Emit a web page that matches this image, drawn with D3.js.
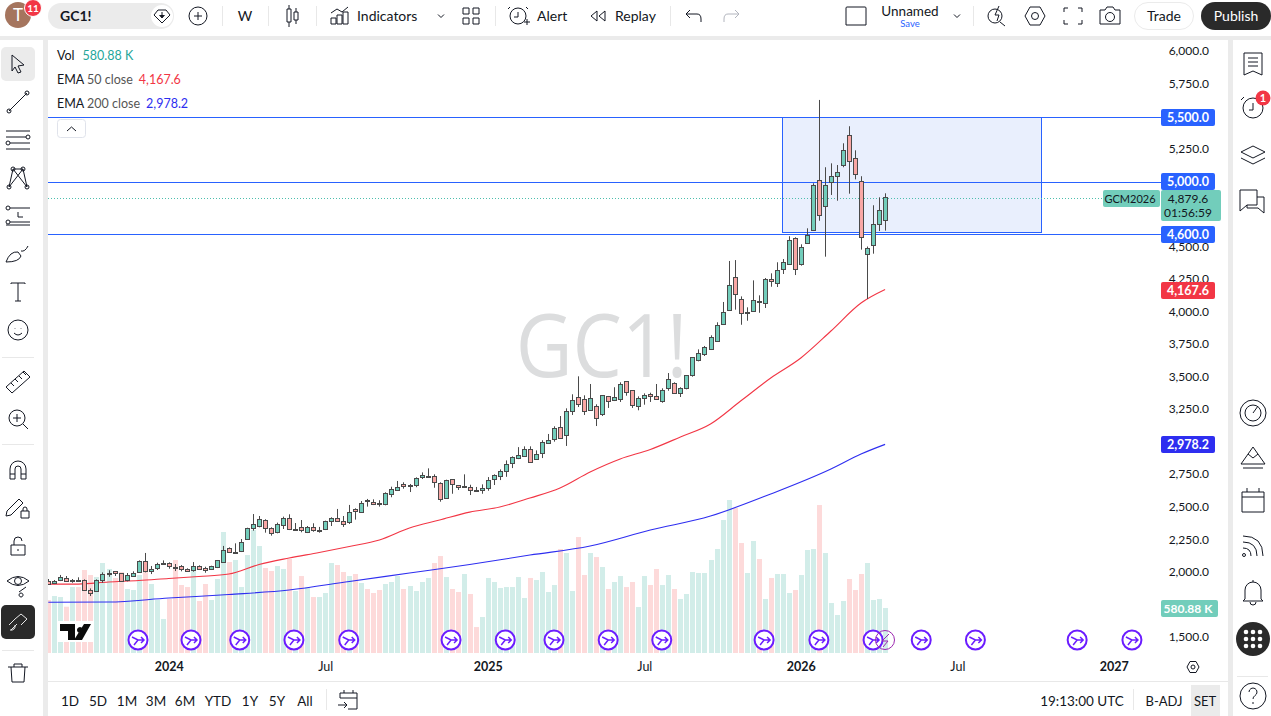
<!DOCTYPE html>
<html>
<head>
<meta charset="utf-8">
<script src="https://cdn.jsdelivr.net/npm/d3@7"></script>
<style>
  body { margin: 0; background: #fff; overflow: hidden; }
  text { font-family: Lato, "Noto Sans", sans-serif; fill: #131722; }
</style>
</head>
<body>
<div id="chart"></div>
<script>
// weekly GC1! candles
var opens = [1931,1908,1931,1954,1931,1934,1934,1857,1846,1931,1980,2003,1988,1931,1969,1995,2080,2008,2023,2063,2064,2038,2041,2018,2008,2046,2026,2015,2031,2080,2180,2146,2154,2249,2330,2354,2395,2334,2303,2357,2410,2325,2341,2303,2341,2318,2326,2387,2410,2392,2380,2479,2457,2549,2533,2526,2515,2595,2630,2671,2661,2661,2722,2735,2733,2679,2564,2710,2664,2653,2653,2625,2625,2641,2710,2733,2771,2829,2868,2883,2940,2863,2909,2986,3017,3109,3045,3232,3340,3324,3240,3271,3209,3347,3317,3324,3463,3394,3271,3332,3363,3347,3306,3409,3447,3370,3409,3509,3624,3672,3708,3777,3900,4008,4261,4092,3995,4000,4077,4062,4246,4215,4320,4362,4561,4359,4523,4623,5007,4807,4992,5038,5122,5353,5176,5000,4438,4507,4669,4700];
var highs = [1944,1936,1975,1967,1944,1957,1941,1872,1941,1995,2011,2005,1990,1990,2003,2087,2144,2044,2069,2087,2072,2059,2051,2026,2074,2049,2038,2046,2090,2198,2187,2218,2251,2338,2443,2428,2403,2341,2377,2423,2441,2374,2397,2351,2372,2344,2392,2418,2482,2428,2513,2487,2543,2559,2556,2549,2610,2653,2697,2687,2674,2725,2763,2794,2748,2687,2707,2710,2666,2748,2668,2651,2671,2727,2748,2786,2855,2886,2957,2963,2963,2932,3010,3058,3117,3196,3255,3363,3501,3355,3442,3286,3355,3350,3417,3455,3463,3394,3347,3370,3375,3442,3409,3526,3455,3417,3509,3647,3708,3734,3816,3916,4072,4387,4394,4115,4031,4238,4123,4256,4292,4377,4402,4577,4569,4515,4638,4984,5624,5107,5137,5124,5291,5422,5237,5038,4498,4815,4876,4907];
var lows = [1898,1905,1928,1926,1915,1921,1857,1813,1844,1915,1961,1967,1921,1926,1964,1992,1995,1982,2013,2059,2023,2005,2003,1998,2000,2018,1992,2013,2028,2074,2144,2146,2151,2246,2315,2341,2300,2277,2295,2328,2320,2320,2303,2297,2307,2300,2320,2351,2382,2344,2367,2400,2453,2500,2512,2500,2510,2572,2628,2638,2612,2649,2712,2729,2645,2538,2561,2599,2628,2651,2589,2618,2599,2622,2666,2704,2729,2796,2865,2881,2837,2860,2873,2981,2999,3022,2966,3204,3265,3204,3235,3119,3196,3258,3311,3304,3352,3258,3240,3283,3304,3319,3298,3390,3367,3342,3401,3498,3616,3657,3703,3772,3895,4005,4013,3897,3928,3997,3989,4026,4189,4187,4287,4359,4279,4351,4520,4620,4696,4420,4894,4850,5107,4904,5014,4474,4095,4443,4617,4620];
var closes = [1905,1926,1957,1928,1934,1931,1857,1831,1934,1980,1988,1985,1923,1972,1992,2080,2000,2023,2057,2067,2038,2036,2015,2000,2041,2023,2010,2041,2087,2169,2149,2149,2226,2333,2364,2405,2334,2292,2367,2410,2326,2331,2315,2341,2315,2320,2387,2410,2387,2372,2457,2464,2526,2546,2518,2518,2602,2633,2653,2653,2664,2717,2740,2737,2684,2556,2702,2671,2649,2661,2630,2623,2641,2702,2740,2771,2825,2878,2894,2940,2840,2902,2994,3010,3102,3025,3232,3317,3286,3229,3332,3178,3355,3309,3340,3440,3378,3278,3332,3355,3347,3324,3394,3478,3370,3409,3509,3647,3678,3726,3800,3897,3993,4200,4131,3985,3997,4085,4075,4246,4231,4315,4377,4546,4323,4492,4584,4968,4738,4968,5038,5068,5237,5153,5053,4569,4484,4669,4776,4879.6];
var volumes = [684,735,722,597,851,851,1071,1006,980,1161,1084,968,1045,826,813,1006,1071,890,684,439,697,1200,877,851,1071,671,890,684,955,1561,1174,1200,851,1264,1587,1380,1097,1058,1122,1084,1213,800,993,851,722,722,774,1161,1135,1045,993,1019,903,826,774,813,890,916,993,826,864,800,916,968,1161,1251,980,826,787,1019,761,335,464,968,916,839,851,851,980,710,968,942,1045,787,877,1342,1290,800,1496,1006,1290,1238,1109,826,916,993,851,916,593,993,877,1084,877,1006,826,697,761,1045,1032,1032,1200,1342,1716,1974,1871,1419,1032,1445,1213,697,968,1019,1019,774,813,1006,1329,1342,1909,1290,645,490,671,955,813,1019,1161,684,697,580.88];

// EMA readings, bar number + value
var ema50Bars = [0,5,10,15,20,25,30,35,40,45,50,55,60,65,70,75,80,85,90,95,100,105,110,115,120,125,130,135,139];
var ema50 = [1905,1905,1921,1932,1948,1963,1982,2055,2105,2148,2194,2244,2336,2397,2458,2497,2566,2643,2766,2866,2939,3035,3135,3311,3488,3642,3849,4064,4167.6];
var ema200Bars = [0,10,20,30,40,50,60,70,80,90,100,110,120,130,135,139];
var ema200 = [1765,1767,1798,1825,1859,1925,1990,2055,2128,2197,2320,2428,2597,2789,2904,2978.2];

// 5,500 5,000 4,750 3,000 and 1,750 sit under the price tags in the picture
var priceTicks = [6000,5750,5250,4500,4250,4000,3750,3500,3250,2750,2500,2250,2000,1500];
var timeTickBars = [20,46,73,99,125,151,177];
var timeTickLabels = ["2024","Jul","2025","Jul","2026","Jul","2027"];
var levels = [5500,5000,4600];
var boxBars = [121.9,164.9];
var boxPrices = [5500,4615];
var eventBars = [14.9,23.7,31.8,40.8,49.9,66.9,75.9,84,93,101.9,118.9,128,137,145,154,170.9,180];
var rangeButtons = ["1D","5D","1M","3M","6M","YTD","1Y","5Y","All"];

var width = 1271, height = 716;

var svg = d3.select("#chart").append("svg")
  .attr("width", width).attr("height", height)
  .style("display", "block")

var xPositionScale = d3.scaleLinear().domain([0,139]).range([48.3,885.1])
var yPositionScale = d3.scaleLinear().domain([1500,6000]).range([636.8,51])
var volumeScale = d3.scaleLinear().domain([0,1974]).range([653,500])

var green = "#72CDBB", red = "#F9A7A5", border = "#4A4A4A", blue = "#2962FF"
var cx = i => Math.round(xPositionScale(i)) + 0.5
var lineY = d => Math.round(yPositionScale(d) + 1) + 0.5

// panels
svg.append("rect").attr("width", width).attr("height", height).attr("fill", "#EBEBEB")
svg.append("rect").attr("width", width).attr("height", 36).attr("fill", "#fff")
svg.append("rect").attr("y", 40).attr("width", 43).attr("height", height - 40).attr("fill", "#fff")
svg.append("rect").attr("x", 48).attr("y", 40).attr("width", 1180).attr("height", height - 40).attr("fill", "#fff")
svg.append("rect").attr("x", 1233).attr("y", 40).attr("width", 38).attr("height", height - 40).attr("fill", "#fff")
svg.append("line").attr("x1", 48).attr("x2", 1228).attr("y1", 681.5).attr("y2", 681.5).attr("stroke", "#E8E8E8")

svg.append("clipPath").attr("id", "plot-clip").append("rect")
  .attr("x", 48).attr("y", 40).attr("width", 1113).attr("height", 613)
var plot = svg.append("g").attr("clip-path", "url(#plot-clip)")

// watermark
plot.append("text").text("GC1!")
  .attr("transform", "translate(601.5,377) scale(0.89,1)")
  .attr("text-anchor", "middle")
  .attr("font-size", 88)
  .style("font-family", "'Open Sans'")
  .style("fill", "#DCDDDE")

// box drawing
plot.append("rect")
  .attr("x", Math.round(xPositionScale(boxBars[0])) + 0.5).attr("y", lineY(boxPrices[0]))
  .attr("width", Math.round(xPositionScale(boxBars[1]) - xPositionScale(boxBars[0])))
  .attr("height", lineY(boxPrices[1]) - lineY(boxPrices[0]))
  .attr("fill", "#E9EFFD").attr("stroke", blue)

// volume
var bars = d3.range(closes.length)
plot.selectAll(".vol").data(bars).enter().append("rect")
  .attr("class", "vol")
  .attr("x", i => cx(i) - 2.5).attr("width", 5)
  .attr("y", i => volumeScale(volumes[i]))
  .attr("height", i => volumeScale(0) - volumeScale(volumes[i]))
  .attr("fill", i => closes[i] >= opens[i] ? "#D2EDE9" : "#FDDADA")

// EMAs
var emaLine = d3.line().curve(d3.curveMonotoneX)
plot.append("path")
  .attr("d", emaLine(ema50Bars.map((b, i) => [xPositionScale(b), yPositionScale(ema50[i])])))
  .attr("fill", "none").attr("stroke", "#F23645").attr("stroke-width", 1.1)
plot.append("path")
  .attr("d", emaLine(ema200Bars.map((b, i) => [xPositionScale(b), yPositionScale(ema200[i])])))
  .attr("fill", "none").attr("stroke", "#2E2EF0").attr("stroke-width", 1.1)

// horizontal levels
plot.selectAll(".level").data(levels).enter().append("line")
  .attr("class", "level")
  .attr("x1", 48).attr("x2", 1161)
  .attr("y1", lineY).attr("y2", lineY)
  .attr("stroke", blue)

// last price dotted
var last = closes[closes.length - 1]
plot.append("line")
  .attr("x1", 48).attr("x2", 1103)
  .attr("y1", lineY(last)).attr("y2", lineY(last))
  .attr("stroke", "#4DBFAD").attr("stroke-dasharray", "1 2")

// candles
plot.selectAll(".wick").data(bars).enter().append("line")
  .attr("class", "wick")
  .attr("x1", cx).attr("x2", cx)
  .attr("y1", i => yPositionScale(highs[i])).attr("y2", i => yPositionScale(lows[i]))
  .attr("stroke", border)
plot.selectAll(".body").data(bars).enter().append("rect")
  .attr("class", "body")
  .attr("x", i => cx(i) - 2).attr("width", 4)
  .attr("y", i => Math.round(yPositionScale(Math.max(opens[i], closes[i]))) + 0.5)
  .attr("height", i => Math.max(1, Math.round(Math.abs(yPositionScale(opens[i]) - yPositionScale(closes[i])))))
  .attr("fill", i => closes[i] >= opens[i] ? green : red)
  .attr("stroke", border)

// price axis
var yAxis = d3.axisRight(yPositionScale).tickValues(priceTicks).tickSize(0).tickFormat(d3.format(",.1f"))
var yg = svg.append("g").attr("transform", "translate(1161,0)").call(yAxis)
yg.select(".domain").remove()
yg.selectAll("text").attr("x", 48).style("text-anchor", "end").attr("font-size", 12)

// time axis
var xAxis = d3.axisBottom(xPositionScale).tickValues(timeTickBars).tickSize(0)
  .tickFormat((d, i) => timeTickLabels[i])
var xg = svg.append("g").attr("transform", "translate(0,653)").call(xAxis)
xg.select(".domain").remove()
xg.selectAll("text").attr("y", 9).attr("font-size", 12.5)
  .style("font-weight", (d, i) => timeTickLabels[i] == "Jul" ? 400 : 700)

// price tags
function tag(x, y, w, h, bg, lines, color, size) {
  svg.append("rect").attr("x", x).attr("y", y).attr("width", w).attr("height", h).attr("rx", 2).attr("fill", bg)
  lines.forEach(function(l, i) {
    svg.append("text").text(l).attr("x", x + (w > 56 ? 27 : w / 2)).attr("y", y + 12.5 + i * 14)
      .attr("text-anchor", "middle").attr("font-size", size || 12)
      .style("fill", color).style("font-weight", color == "#fff" ? 700 : 400)
  })
}
tag(1161, 109, 54, 17, blue, ["5,500.0"], "#fff", 12.5)
tag(1161, 173, 54, 17, blue, ["5,000.0"], "#fff", 12.5)
tag(1161, 226, 54, 17, blue, ["4,600.0"], "#fff", 12.5)
tag(1161, 282, 54, 17, "#F23645", ["4,167.6"], "#fff", 12.5)
tag(1161, 436, 54, 17, "#2E2EF0", ["2,978.2"], "#fff", 12.5)
tag(1161, 600, 57, 17, "#72CDBB", ["580.88 K"], "#fff", 12)
tag(1161, 190, 60, 31, "#72CDBB", ["4,879.6", "01:56:59"], "#131722")
tag(1103, 190, 57, 17, "#72CDBB", ["GCM2026"], "#131722", 11)

// legend
function legend(y, parts) {
  var t = svg.append("text").attr("x", 57).attr("y", y).attr("font-size", 12.5)
  parts.forEach(function(p) {
    t.append("tspan").text(p[0]).attr("dx", p[2] || 0).style("fill", p[1])
  })
}
legend(60, [["Vol", "#131722"], ["580.88 K", "#26A69A", 8]])
legend(84, [["EMA", "#131722"], [" 50 close", "#555"], ["4,167.6", "#F23645", 6]])
legend(108, [["EMA", "#131722"], [" 200 close", "#555"], ["2,978.2", "#2E2EF0", 6]])

svg.append("rect").attr("x", 57.5).attr("y", 119.5).attr("width", 28).attr("height", 18).attr("rx", 3)
  .attr("fill", "#fff").attr("stroke", "#E0E3EB")
svg.append("path").attr("d", "M67,131l4.5,-4l4.5,4").attr("fill", "none").attr("stroke", "#131722")

// events along the bottom
var ev = svg.selectAll(".ev").data(eventBars).enter().append("g")
  .attr("class", "ev")
  .attr("transform", d => "translate(" + xPositionScale(d) + ",640)")
ev.append("circle").attr("r", 9.5).attr("fill", "#fff").attr("stroke", "#6B1CFF").attr("stroke-width", 2)
ev.append("path").attr("d", "M-6,-3L0,0H6M3,-3L6,0L3,3M0,0L-4,5")
  .attr("fill", "none").attr("stroke", "#6B1CFF").attr("stroke-width", 1.5)
svg.append("circle").attr("cx", 885).attr("cy", 640).attr("r", 9.5).attr("fill", "none").attr("stroke", "#9C27B0")
svg.append("path").attr("d", "M889,634L882,641H888L883,647").attr("fill", "none").attr("stroke", "#9C27B0")

// tv logo
svg.append("rect").attr("x", 57).attr("y", 621).attr("width", 36).attr("height", 21).attr("fill", "#fff")
svg.append("path").attr("d", "M60,624H75V640H68V631H60ZM84,624H91L82,640H74ZM80,627a3,3 0 1 1 -0.01,0Z").attr("fill", "#0B0B0B")

// ---- toolbars ----
function icon(x, y, d, opts) {
  opts = opts || {}
  return svg.append("path").attr("transform", "translate(" + x + "," + y + ")").attr("d", d)
    .attr("fill", opts.fill || "none").attr("stroke", opts.stroke || "#131722").attr("stroke-width", 1)
}
function circlePath(x, y, r) {
  return "M" + (x - r) + "," + y + "a" + r + "," + r + " 0 1 0 " + (2 * r) + ",0a" + r + "," + r + " 0 1 0 " + (-2 * r) + ",0"
}
function label(txt, x, y, size, anchor, color, weight) {
  return svg.append("text").text(txt).attr("x", x).attr("y", y).attr("font-size", size)
    .attr("text-anchor", anchor || "start").style("fill", color || "#131722").style("font-weight", weight || 400)
}
function sep(x, y1, y2) {
  svg.append("line").attr("x1", x + 0.5).attr("x2", x + 0.5).attr("y1", y1).attr("y2", y2).attr("stroke", "#E8E8E8")
}
function hsep(y, x1, x2) {
  svg.append("line").attr("x1", x1).attr("x2", x2).attr("y1", y + 0.5).attr("y2", y + 0.5).attr("stroke", "#E8E8E8")
}

// top bar
svg.append("circle").attr("cx", 18).attr("cy", 15).attr("r", 13).attr("fill", "#A5755E")
label("T", 18, 21, 17, "middle", "#fff")
svg.append("circle").attr("cx", 33).attr("cy", 8).attr("r", 8.5).attr("fill", "#F23645").attr("stroke", "#fff")
label("11", 33, 12, 10, "middle", "#fff", 700)
svg.append("rect").attr("x", 48).attr("y", 3).attr("width", 126).attr("height", 26).attr("rx", 13).attr("fill", "#EBEBEB")
label("GC1!", 60, 21, 14, "start", "#131722", 700)
svg.append("circle").attr("cx", 162).attr("cy", 16).attr("r", 11).attr("fill", "#fff")
icon(162, 16, "M-8,-1L-4,-6H4L8,-1L0,7Z")
icon(162, 16, "M0,-4V0M-2.5,-1L0,2L2.5,-1", {fill: "#131722"})
icon(198, 16, circlePath(0, 0, 9) + "M-4,0H4M0,-4V4")
sep(222, 6, 26)
label("W", 245, 21, 14, "middle")
sep(268, 6, 26)
icon(292, 16, "M-5,-7h4v13h-4zM2,-4h4v8h-4zM-3,-11v4M-3,6v5M4,-8v4M4,4v4")
sep(316, 6, 26)
icon(340, 16, "M-9,8V2h5V8ZM-3,8V-1h5V8ZM3,8V-4h5V8ZM-9,-3L-3,-7L2,-4L8,-9")
label("Indicators", 357, 21, 14)
icon(441, 16, "M-3,-1.5L0,1.5L3,-1.5")
icon(471, 16, "M-8,-8h6v6h-6zM2,-8h6v6h-6zM-8,2h6v6h-6zM2,2h6v6h-6z")
sep(495, 6, 26)
icon(518, 16, circlePath(0, 0, 8) + "M0,-4V1H-4M-8,-9L-10,-7M8,-9L10,-7M6,6H12M9,3V9")
label("Alert", 537, 21, 14)
icon(598, 16, "M-1,-5L-7,0L-1,5ZM7,-5L1,0L7,5Z")
label("Replay", 615, 21, 14)
sep(670, 6, 26)
icon(694, 16, "M-4,-6L-8,-2L-4,2M-8,-2H3Q7,-2 7,3V6")
icon(731, 16, "M4,-6L8,-2L4,2M8,-2H-3Q-7,-2 -7,3V6", {stroke: "#B2B5BE"})
icon(856, 16, "M-9,-9h18a1,1 0 0 1 1,1v17h-20v-17a1,1 0 0 1 1,-1z")
label("Unnamed", 910, 16, 13.5, "middle")
label("Save", 910, 27, 9.5, "middle", "#2962FF")
icon(957, 16, "M-3,-1.5L0,1.5L3,-1.5")
sep(973, 6, 26)
icon(996, 16, circlePath(-1, 0, 7) + "M4,6L9,10M3,-10L-1,-1H3L1,5")
icon(1035, 16, "M-10,0L-5,-9H5L10,0L5,9H-5Z" + circlePath(0, 0, 3.5))
icon(1073, 16, "M-9,-4V-8H-5M5,-8H9V-4M9,4V8H5M-5,8H-9V4")
icon(1110, 16, "M-10,-6H-5L-3,-9H3L5,-6H10V8H-10Z" + circlePath(0, 1, 4.5))
svg.append("rect").attr("x", 1134.5).attr("y", 2.5).attr("width", 59).attr("height", 27).attr("rx", 13.5).attr("fill", "#fff").attr("stroke", "#EBEBEB")
label("Trade", 1164, 21, 14, "middle")
svg.append("rect").attr("x", 1201).attr("y", 2).attr("width", 70).attr("height", 28).attr("rx", 14).attr("fill", "#2A2A2A")
label("Publish", 1236, 21, 14, "middle", "#fff")

// left bar
svg.append("rect").attr("x", 1).attr("y", 47).attr("width", 34).attr("height", 34).attr("rx", 5).attr("fill", "#EBEBEB")
icon(17, 64, "M-5,-9L7,1L1,2L4,8L1,9L-2,3L-5,7Z")
icon(18, 102, "M-9,9L9,-9" + circlePath(-9, 9, 2) + circlePath(9, -9, 2))
icon(18, 140, "M-12,-9H12M-12,-3H8M-8,3H12M-12,9H12" + circlePath(10, -3, 2) + circlePath(-10, 3, 2))
icon(18, 178, "M-9,9L-5,-9L9,9L5,-9L-9,9M-5,-9L5,-9" + circlePath(-9, 9, 2) + circlePath(9, 9, 2) + circlePath(-5, -9, 2) + circlePath(5, -9, 2))
icon(18, 216, "M-8,-8H12M-8,6H12M-12,9H12M0,-4V1H5" + circlePath(-10, -8, 2) + circlePath(-10, 6, 2))
icon(16, 254, "M-10,8Q-6,-3 2,-2L5,2Q3,8 -10,8ZM5,-3Q9,-2 12,-8")
icon(18, 292, "M-7,-8V-9H7V-8M0,-9V9M-3,9H3")
icon(18, 330, circlePath(0, 0, 10) + "M-4,3Q0,7 4,3M-3,-2v0.5M3,-2v0.5")
hsep(357, 2, 34)
icon(18, 381, "M-12,6L6,-10L12,-4L-6,12ZM-7,2L-4,5M-3,-2L0,1M1,-5L4,-2M5,-9L8,-6")
icon(18, 419, circlePath(-1, -1, 8) + "M5,5L10,10M-5,-1H3M-1,-5V3")
hsep(444, 2, 34)
icon(18, 470, "M-8,9V-1a8,8 0 0 1 16,0V9H3V-1a3,3 0 0 0 -6,0V9ZM-8,4H-3M3,4H8")
icon(16, 508, "M-9,3L3,-9L7,-5L-5,7L-10,8ZM5,3h8v7h-8zM7,3v-2a2,2 0 0 1 4,0v2")
icon(18, 546, "M-7,-1H7V9H-7ZM-4,-1V-5a4,4 0 0 1 8,0M0,3V5")
icon(18, 584, "M-11,-3Q0,-12 11,-3Q0,6 -11,-3" + circlePath(0, -3, 3.5) + "M1,8L8,3M3,9a2,2 0 1 0 0.1,0")
svg.append("rect").attr("x", 1).attr("y", 605).attr("width", 34).attr("height", 34).attr("rx", 5).attr("fill", "#2A2A2A")
icon(18, 622, "M-9,3L-3,-3M-7,8L-1,2M3,-8L9,-3L3,3M-3,3a4,4 0 0 1 -5,5M-3,-3L3,-8", {stroke: "#E8E8E8"})
hsep(650, 2, 34)
icon(18, 673, "M-10,-6H10M-4,-6V-9H4V-6M-7,-6L-6,9H6L7,-6")

// right bar
icon(1253, 64, "M-9,-11H9V11L0,7L-9,11ZM-5,-6H5M-5,-2H5M-5,2H5")
icon(1253, 108, circlePath(0, 0, 10) + "M0,-5V2H-4M-9,-11L-12,-8")
svg.append("circle").attr("cx", 1263).attr("cy", 98).attr("r", 7.5).attr("fill", "#F23645")
label("1", 1263, 102, 11, "middle", "#fff", 700)
icon(1253, 155, "M-12,-3L0,-9L12,-3L0,3ZM-12,3L0,9L12,3")
icon(1252, 201, "M-12,-11H5V4H-5L-12,10ZM5,-4H12V12L6,7H-5V4")
icon(1253, 413, circlePath(0, 0, 13) + circlePath(0, 0, 8) + "M0,0L5,-7")
icon(1253, 457, "M-12,7L0,-10L12,7H-12M-5,-3L0,1L5,-3M-10,11H10")
icon(1253, 500, "M-11,-8H11V12H-11ZM-11,-3H11M-6,-12V-8M6,-12V-8", {})
icon(1253, 546, "M-10,-10Q10,-10 10,10M-10,-4Q4,-4 4,10M-10,2Q-2,2 -2,10" + circlePath(-9, 9, 1.5))
icon(1253, 592, "M-8,7V-2a8,8 0 0 1 16,0V7L10,9H-10ZM-3,10a3,3 0 0 0 6,0M0,-12V-10")
svg.append("circle").attr("cx", 1253).attr("cy", 639).attr("r", 17).attr("fill", "#2A2A2A")
;[-7,0,7].forEach(function(a) {
  [-7,0,7].forEach(function(b) {
    svg.append("circle").attr("cx", 1253 + a).attr("cy", 639 + b).attr("r", 2.3).attr("fill", "#fff")
  })
})
hsep(676, 1237, 1268)
icon(1253, 696, circlePath(0, 0, 13) + "M-4,-4a4,4 0 1 1 6,3.5Q0,1 0,3M0,6V8")

// bottom bar
var rangeX = [70,98,127,156,185,218,250,277,305]
rangeButtons.forEach(function(b, i) { label(b, rangeX[i], 706, 13.5, "middle") })
sep(326, 689, 710)
icon(348, 701, "M-8,-3V-8H9V8H0M-8,-3H9M-4,-11V-8M5,-11V-8M-10,4H-1M-4,1L-1,4L-4,7")
label("19:13:00 UTC", 1082, 706, 13.5, "middle")
sep(1133, 689, 710)
label("B-ADJ", 1164, 706, 13, "middle")
svg.append("rect").attr("x", 1191).attr("y", 685).attr("width", 29).attr("height", 31).attr("fill", "#EBEBEB")
label("SET", 1205, 706, 13, "middle")
icon(1193, 667, "M-6,0L-3,-5.5H3L6,0L3,5.5H-3Z" + circlePath(0, 0, 2))
</script>
</body>
</html>
